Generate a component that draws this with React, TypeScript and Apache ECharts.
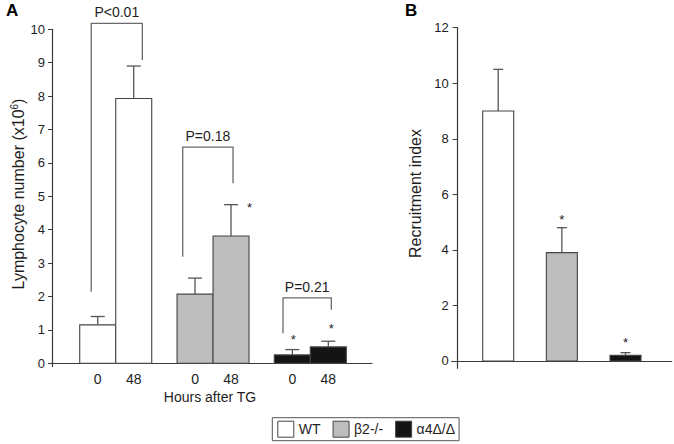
import React, { useEffect, useRef } from "react";
import * as echarts from "echarts";

// ---------- data ----------
const timepoints = ["0", "48"];
const genotypes = ["WT", "β2-/-", "α4Δ/Δ"];
const genotypeColors = ["#ffffff", "#bdbdbd", "#141414"];

// Panel A: lymphocyte number (x10^6), mean and SEM per timepoint
const lymphWT = [1.15, 7.93];
const lymphWTErr = [0.25, 0.97];
const lymphB2 = [2.07, 3.81];
const lymphB2Err = [0.48, 0.94];
const lymphA4 = [0.25, 0.49];
const lymphA4Err = [0.16, 0.17];

// Panel B: recruitment index
const recruitIndex = [9.0, 3.9, 0.2];
const recruitErr = [1.5, 0.9, 0.1];

// P-value brackets (one per genotype), y levels in data units
const pLabels = ["P<0.01", "P=0.18", "P=0.21"];
const bracketTop = [10.18, 6.47, 1.96];
const bracketLeftEnd = [2.14, 3.19, 0.9];
const bracketRightEnd = [9.08, 5.39, 1.6];

// significance asterisks: [genotype index, timepoint index, y]
const starsA = [
  [1, 1, 4.74],
  [2, 0, 0.8],
  [2, 1, 1.12],
];
// panel B asterisks: [genotype index, y]
const starsB = [
  [1, 5.19],
  [2, 0.78],
];

const lymphTicks = [0, 1, 2, 3, 4, 5, 6, 7, 8, 9, 10];
const recruitTicks = [0, 2, 4, 6, 8, 10, 12];

// ---------- style ----------
const FONT = "'Liberation Sans', Arial, Helvetica, sans-serif";
const AXIS = "#3a3a3a";
const ERR = "#555555";
const BRK = "#6a6a6a";
const TXT = "#1e1e1e";
const BAR_A = 36;
const BAR_B = 31;
const CAP_A = 7;
const CAP_B = 5;
const bracketLeftDx = [-6.5, -12.3, -9.3];
const bracketRightDx = [8.6, 2, 3];
const starADx = [18.5, 1, 3];

const lymphMeans = [lymphWT, lymphB2, lymphA4];
const lymphErrs = [lymphWTErr, lymphB2Err, lymphA4Err];

export default function App() {
  const ref = useRef<HTMLDivElement>(null);

  useEffect(() => {
    const chart = echarts.init(ref.current!, null, { renderer: "svg" });

    const barRenderA = (color: string) => (params: any, api: any) => {
      const g = api.value(0);
      const t = api.value(1);
      const v = api.value(2);
      const e = api.value(3);
      const base = api.coord([g, 0]);
      const cx = base[0] + (t - 0.5) * BAR_A;
      const yv = api.coord([g, v])[1];
      const ye = api.coord([g, v + e])[1];
      return {
        type: "group",
        children: [
          {
            type: "rect",
            shape: { x: cx - BAR_A / 2, y: yv, width: BAR_A, height: base[1] - yv },
            style: { fill: color, stroke: "#444", lineWidth: 1.1 },
          },
          { type: "line", shape: { x1: cx, y1: yv, x2: cx, y2: ye }, style: { stroke: ERR, lineWidth: 1.3 } },
          { type: "line", shape: { x1: cx - CAP_A, y1: ye, x2: cx + CAP_A, y2: ye }, style: { stroke: ERR, lineWidth: 1.3 } },
          {
            type: "text",
            x: cx,
            y: base[1] + 9,
            style: { text: timepoints[t], align: "center", verticalAlign: "top", fontSize: 14, fontFamily: FONT, fill: TXT },
          },
        ],
      };
    };

    const barRenderB = (color: string) => (params: any, api: any) => {
      const g = api.value(0);
      const v = api.value(1);
      const e = api.value(2);
      const base = api.coord([g, 0]);
      const cx = base[0];
      const yv = api.coord([g, v])[1];
      const ye = api.coord([g, v + e])[1];
      return {
        type: "group",
        children: [
          {
            type: "rect",
            shape: { x: cx - BAR_B / 2, y: yv, width: BAR_B, height: base[1] - yv },
            style: { fill: color, stroke: "#444", lineWidth: 1.1 },
          },
          { type: "line", shape: { x1: cx, y1: yv, x2: cx, y2: ye }, style: { stroke: ERR, lineWidth: 1.3 } },
          { type: "line", shape: { x1: cx - CAP_B, y1: ye, x2: cx + CAP_B, y2: ye }, style: { stroke: ERR, lineWidth: 1.3 } },
        ],
      };
    };

    const seriesA = genotypes.map((name, gi) => ({
      type: "custom",
      name,
      xAxisIndex: 0,
      yAxisIndex: 0,
      clip: false,
      itemStyle: { color: genotypeColors[gi], borderColor: "#444", borderWidth: 1 },
      renderItem: barRenderA(genotypeColors[gi]),
      data: timepoints.map((_, t) => [gi + 1, t, lymphMeans[gi][t], lymphErrs[gi][t]]),
    }));

    const seriesB = genotypes.map((name, gi) => ({
      type: "custom",
      name,
      xAxisIndex: 1,
      yAxisIndex: 1,
      clip: false,
      itemStyle: { color: genotypeColors[gi], borderColor: "#444", borderWidth: 1 },
      renderItem: barRenderB(genotypeColors[gi]),
      data: [[gi + 1, recruitIndex[gi], recruitErr[gi]]],
    }));

    const bracketSeries = {
      type: "custom",
      xAxisIndex: 0,
      yAxisIndex: 0,
      clip: false,
      silent: true,
      renderItem: (params: any, api: any) => {
        const g = api.value(0);
        const i = api.value(4);
        const gx = api.coord([g, 0])[0];
        const xl = gx - BAR_A / 2 + bracketLeftDx[i];
        const xr = gx + BAR_A / 2 + bracketRightDx[i];
        const yt = api.coord([g, api.value(1)])[1];
        const yl = api.coord([g, api.value(2)])[1];
        const yr = api.coord([g, api.value(3)])[1];
        return {
          type: "group",
          children: [
            {
              type: "polyline",
              shape: { points: [[xl, yl], [xl, yt], [xr, yt], [xr, yr]] },
              style: { stroke: BRK, lineWidth: 1.3, fill: "none" },
            },
            {
              type: "text",
              x: (xl + xr) / 2,
              y: yt - 4,
              style: { text: pLabels[i], align: "center", verticalAlign: "bottom", fontSize: 14, fontFamily: FONT, fill: TXT },
            },
          ],
        };
      },
      data: pLabels.map((_, i) => [i + 1, bracketTop[i], bracketLeftEnd[i], bracketRightEnd[i], i]),
    };

    const starsASeries = {
      type: "custom",
      xAxisIndex: 0,
      yAxisIndex: 0,
      clip: false,
      silent: true,
      renderItem: (params: any, api: any) => {
        const g = api.value(0);
        const t = api.value(1);
        const p = api.coord([g, api.value(2)]);
        const cx = p[0] + (t - 0.5) * BAR_A + starADx[params.dataIndex];
        return {
          type: "text",
          x: cx,
          y: p[1] + 3,
          style: { text: "*", align: "center", verticalAlign: "middle", fontSize: 13, fontFamily: FONT, fill: TXT },
        };
      },
      data: starsA.map(([gi, t, y]) => [gi + 1, t, y]),
    };

    const starsBSeries = {
      type: "custom",
      xAxisIndex: 1,
      yAxisIndex: 1,
      clip: false,
      silent: true,
      renderItem: (params: any, api: any) => {
        const p = api.coord([api.value(0), api.value(1)]);
        return {
          type: "text",
          x: p[0],
          y: p[1] + 3,
          style: { text: "*", align: "center", verticalAlign: "middle", fontSize: 13, fontFamily: FONT, fill: TXT },
        };
      },
      data: starsB.map(([gi, y]) => [gi + 1, y]),
    };

    const yAxisCommon = {
      type: "value",
      splitLine: { show: false },
      axisLine: { show: true, lineStyle: { color: AXIS, width: 1.2 } },
      axisLabel: { fontSize: 13, fontFamily: FONT, color: TXT },
    };
    const xAxisCommon = {
      type: "value",
      splitLine: { show: false },
      axisTick: { show: false },
      axisLabel: { show: false },
      axisLine: { show: true, onZero: true, lineStyle: { color: AXIS, width: 1.2 } },
    };

    const option: any = {
      animation: false,
      backgroundColor: "#ffffff",
      textStyle: { fontFamily: FONT },
      grid: [
        { left: 52, top: 29.3, width: 320, height: 337.3, containLabel: false, outerBoundsMode: "none" },
        { left: 451.7, top: 27.7, width: 220, height: 340.5, containLabel: false, outerBoundsMode: "none" },
      ],
      xAxis: [
        { ...xAxisCommon, gridIndex: 0, min: 0.345, max: 3.634 },
        { ...xAxisCommon, gridIndex: 1, min: 0.2694, max: 3.7258 },
      ],
      yAxis: [
        {
          ...yAxisCommon,
          gridIndex: 0,
          min: -0.1,
          max: 10,
          axisTick: { show: true, length: 4, customValues: lymphTicks, lineStyle: { color: AXIS } },
          axisLabel: { ...yAxisCommon.axisLabel, margin: 7, customValues: lymphTicks },
        },
        {
          ...yAxisCommon,
          gridIndex: 1,
          min: -0.26,
          max: 12,
          offset: -6,
          axisTick: { show: true, length: 5, customValues: recruitTicks, lineStyle: { color: AXIS } },
          axisLabel: { ...yAxisCommon.axisLabel, margin: 9, customValues: recruitTicks },
        },
      ],
      legend: {
        data: genotypes,
        left: 272.3,
        top: 417.7,
        orient: "horizontal",
        icon: "rect",
        itemWidth: 16,
        itemHeight: 16,
        itemGap: 12,
        padding: [3, 4, 3, 5],
        borderColor: "#555",
        borderWidth: 1,
        selectedMode: false,
        textStyle: { fontSize: 14, fontFamily: FONT, color: TXT },
        itemStyle: { borderColor: "#444", borderWidth: 1 },
      },
      graphic: [
        { type: "text", left: 6, top: 2, style: { text: "A", font: `bold 17px ${FONT}`, fill: "#000" } },
        { type: "text", left: 405, top: 2, style: { text: "B", font: `bold 17px ${FONT}`, fill: "#000" } },
        {
          type: "text",
          x: 18,
          y: 194,
          rotation: Math.PI / 2,
          style: {
            text: "{a|Lymphocyte number (x10}{s|6}{a|)}",
            align: "center",
            verticalAlign: "middle",
            fill: TXT,
            rich: {
              a: { fontSize: 16, fontFamily: FONT, fill: TXT, lineHeight: 18 },
              s: { fontSize: 10, fontFamily: FONT, fill: TXT, verticalAlign: "top", lineHeight: 18 },
            },
          },
        },
        {
          type: "text",
          x: 415.5,
          y: 193.5,
          rotation: Math.PI / 2,
          style: { text: "Recruitment index", align: "center", verticalAlign: "middle", fontSize: 16, fontFamily: FONT, fill: TXT },
        },
        {
          type: "text",
          x: 210,
          y: 396.7,
          style: { text: "Hours after TG", align: "center", verticalAlign: "middle", fontSize: 14, fontFamily: FONT, fill: TXT },
        },
      ],
      series: [...seriesA, ...seriesB, bracketSeries, starsASeries, starsBSeries],
    };

    chart.setOption(option);
    return () => chart.dispose();
  }, []);

  return (
    <div
      ref={ref}
      style={{ position: "absolute", left: 0, top: 0, width: 674, height: 444, background: "#fff" }}
    />
  );
}
